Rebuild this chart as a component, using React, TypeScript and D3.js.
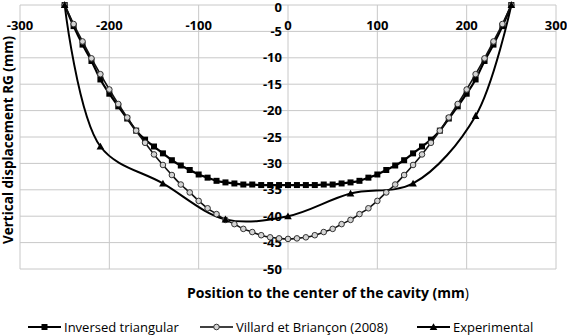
import React from 'react';
import * as d3 from 'd3';

// positions along the profile (mm)
const positions = [
  -250, -240, -230, -220, -210, -200, -190, -180, -170, -160, -150, -140, -130,
  -120, -110, -100, -90, -80, -70, -60, -50, -40, -30, -20, -10, 0,
  10, 20, 30, 40, 50, 60, 70, 80, 90, 100, 110, 120, 130, 140, 150, 160, 170,
  180, 190, 200, 210, 220, 230, 240, 250,
];

const inversedTriangular = [
  0, -4.0, -7.5, -10.6, -14.1, -16.8, -19.2, -21.5, -23.8, -25.5, -26.8, -28.1, -29.4,
  -30.4, -31.25, -32.1, -32.7, -33.3, -33.6, -33.8, -34.0, -34.0, -34.1, -34.1, -34.1, -34.1,
  -34.1, -34.1, -34.1, -34.0, -34.0, -33.8, -33.6, -33.3, -32.7, -32.1, -31.25, -30.4, -29.4,
  -28.1, -26.8, -25.5, -23.8, -21.5, -19.2, -16.8, -14.1, -10.6, -7.5, -4.0, 0,
];

const villard = [
  0, -3.6, -6.9, -10.1, -13.1, -16.0, -18.75, -21.3, -23.8, -26.1, -28.3, -30.3, -32.2,
  -34.0, -35.5, -37.1, -38.5, -39.6, -40.7, -41.5, -42.4, -43.0, -43.6, -44.0, -44.2, -44.3,
  -44.2, -44.0, -43.6, -43.0, -42.4, -41.5, -40.7, -39.6, -38.5, -37.1, -35.5, -34.0, -32.2,
  -30.3, -28.3, -26.1, -23.8, -21.3, -18.75, -16.0, -13.1, -10.1, -6.9, -3.6, 0,
];

const expPositions = [-250, -210, -140, -70, 0, 70, 140, 210, 250];
const experimental = [0, -26.8, -33.8, -40.6, -40.0, -35.7, -33.8, -21.0, 0];

const xTicks = [-300, -200, -100, 0, 100, 200, 300];
const yTicks = [0, -5, -10, -15, -20, -25, -30, -35, -40, -45, -50];

const legendLabels = ['Inversed triangular', 'Villard et Briançon (2008)', 'Experimental'];

const W = 567;
const H = 336;
const FONT = '"Open Sans", sans-serif';

const x = d3.scaleLinear().domain([-300, 300]).range([20, 556]);
const y = d3.scaleLinear().domain([-50, 0]).range([269, 5]);

const line = d3.line<[number, number]>()
  .x(d => x(d[0]))
  .y(d => y(d[1]))
  .curve(d3.curveCatmullRom.alpha(0.5));

const zip = (xs: number[], ys: number[]) => xs.map((v, i) => [v, ys[i]] as [number, number]);

const triPath = (cx: number, cy: number, s = 3.8) =>
  `M${cx},${cy - s}L${cx + s},${cy + s * 0.8}L${cx - s},${cy + s * 0.8}Z`;

function Square({ cx, cy }: { cx: number; cy: number }) {
  return <rect x={cx - 3} y={cy - 3} width={6} height={6} fill="#000" />;
}
function Circle({ cx, cy }: { cx: number; cy: number }) {
  return <circle cx={cx} cy={cy} r={2.8} fill="#d4d4d4" stroke="#333" strokeWidth={1} />;
}
function Tri({ cx, cy }: { cx: number; cy: number }) {
  return <path d={triPath(cx, cy)} fill="#000" />;
}

export default function App() {
  const sq = zip(positions, inversedTriangular);
  const ci = zip(positions, villard);
  const ex = zip(expPositions, experimental);

  const legendY = 327;
  const legendItems = [
    { x0: 28, label: legendLabels[0], kind: 'sq' },
    { x0: 200, label: legendLabels[1], kind: 'ci' },
    { x0: 417, label: legendLabels[2], kind: 'tri' },
  ];

  return (
    <svg width={W} height={H} style={{ position: 'absolute', left: 0, top: 0, background: '#fff' }}
      fontFamily={FONT}>
      {/* grid */}
      <g stroke="#c8c8c8" strokeWidth={1}>
        {xTicks.map(t => (
          <line key={'gx' + t} x1={x(t)} x2={x(t)} y1={y(0)} y2={y(-50)} />
        ))}
        {yTicks.map(t => (
          <line key={'gy' + t} x1={x(-300)} x2={x(300)} y1={y(t)} y2={y(t)} />
        ))}
      </g>

      {/* tick labels */}
      <g fontSize={13} fontWeight="bold" fill="#000">
        {xTicks.map(t => (
          <text key={'tx' + t} x={x(t)} y={30} textAnchor="middle">{t}</text>
        ))}
        {yTicks.map(t => (
          <text key={'ty' + t} x={x(0) - 6} y={Math.max(y(t), 7.5)} dy="0.36em" textAnchor="end">{t}</text>
        ))}
      </g>

      {/* series */}
      <path d={line(ex) || ''} fill="none" stroke="#000" strokeWidth={2} />
      <path d={line(sq) || ''} fill="none" stroke="#000" strokeWidth={2.2} />
      {sq.map((d, i) => <Square key={'s' + i} cx={x(d[0])} cy={y(d[1])} />)}
      <path d={line(ci) || ''} fill="none" stroke="#111" strokeWidth={1.6} />
      {ci.map((d, i) => <Circle key={'c' + i} cx={x(d[0])} cy={y(d[1])} />)}
      {ex.map((d, i) => <Tri key={'t' + i} cx={x(d[0])} cy={y(d[1])} />)}

      {/* axis titles */}
      <text x={328} y={298} textAnchor="middle" fontSize={14} fontWeight="bold">
        Position to the center of the cavity (mm<tspan fontWeight="normal">)</tspan>
      </text>
      <text transform={`translate(13, ${(y(0) + y(-50)) / 2 + 3}) rotate(-90)`} textAnchor="middle"
        fontSize={13.5} fontWeight="bold">
        Vertical displacement RG (mm)
      </text>

      {/* legend */}
      {legendItems.map(it => (
        <g key={it.label}>
          <line x1={it.x0} x2={it.x0 + 33} y1={legendY} y2={legendY} stroke="#000"
            strokeWidth={it.kind === 'ci' ? 1.6 : 2} />
          {it.kind === 'sq' && <Square cx={it.x0 + 16.5} cy={legendY} />}
          {it.kind === 'ci' && <Circle cx={it.x0 + 16.5} cy={legendY} />}
          {it.kind === 'tri' && <Tri cx={it.x0 + 16.5} cy={legendY} />}
          <text x={it.x0 + 36} y={legendY} dy="0.35em" fontSize={13}>{it.label}</text>
        </g>
      ))}
    </svg>
  );
}
